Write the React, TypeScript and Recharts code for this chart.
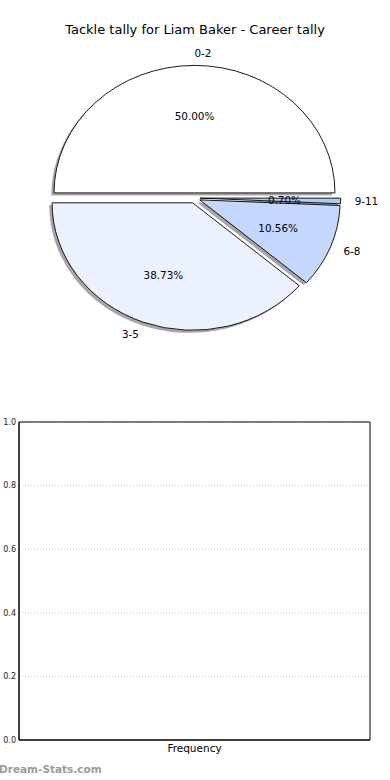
import React from 'react';
import { PieChart, Pie, BarChart, Bar, XAxis, YAxis, CartesianGrid, ReferenceArea } from 'recharts';

const chartTitle = 'Tackle tally for Liam Baker - Career tally';
const tallyRanges = ['0-2', '3-5', '6-8', '9-11'];
const tallyCounts = [71, 55, 15, 1];
const sliceColors = ['#ffffff', '#ebf1fe', '#c4d8ff', '#afcbf5'];
const frequencyCategories = [''];
const frequencyValues = [0];
const frequencyTicks = [0, 0.2, 0.4, 0.6, 0.8, 1.0];
const xAxisTitle = 'Frequency';
const watermark = 'Dream-Stats.com';

const pieData = tallyRanges.map((range, i) => ({ range, count: tallyCounts[i], color: sliceColors[i] }));
const freqData = frequencyCategories.map((category, i) => ({ category, value: frequencyValues[i] }));

const FONT = '"DejaVu Sans", sans-serif';
const RATIO = 127.5 / 140.5; // vertical / horizontal radius
const EXPLODE = 0.04;
const SHADOW = 0.02;
const RAD = Math.PI / 180;

function wedgePath(cx: number, cy: number, rx: number, ry: number, start: number, end: number) {
  const x1 = cx + rx * Math.cos(start * RAD);
  const y1 = cy - ry * Math.sin(start * RAD);
  const x2 = cx + rx * Math.cos(end * RAD);
  const y2 = cy - ry * Math.sin(end * RAD);
  const large = end - start > 180 ? 1 : 0;
  return `M${cx},${cy} L${x1},${y1} A${rx},${ry} 0 ${large} 0 ${x2},${y2} Z`;
}

function explodedCenter(p: any) {
  const rx = p.outerRadius;
  const ry = rx * RATIO;
  const mid = (p.startAngle + p.endAngle) / 2;
  return {
    rx,
    ry,
    mid,
    x: p.cx + EXPLODE * rx * Math.cos(mid * RAD),
    y: p.cy - EXPLODE * ry * Math.sin(mid * RAD),
  };
}

const WedgeShape = (p: any) => {
  const c = explodedCenter(p);
  return (
    <path
      d={wedgePath(c.x, c.y, c.rx, c.ry, p.startAngle, p.endAngle)}
      fill={p.payload?.color ?? p.fill}
      stroke="#000"
      strokeWidth={0.9}
      strokeLinejoin="round"
    />
  );
};

const ShadowShape = (p: any) => {
  const c = explodedCenter(p);
  return (
    <path
      d={wedgePath(c.x - SHADOW * c.rx, c.y + SHADOW * c.ry, c.rx, c.ry, p.startAngle, p.endAngle)}
      fill="#4d4d4d"
      fillOpacity={0.5}
      stroke="none"
    />
  );
};

const renderLabels = (p: any) => {
  const c = explodedCenter(p);
  const cosm = Math.cos(c.mid * RAD);
  const sinm = Math.sin(c.mid * RAD);
  const lx = c.x + 1.1 * c.rx * cosm;
  const ly = c.y - 1.1 * c.ry * sinm;
  const px = c.x + 0.6 * c.rx * cosm;
  const py = c.y - 0.6 * c.ry * sinm;
  const anchor = lx - p.cx > 0 || Math.abs(lx - p.cx) < 1e-6 ? 'start' : 'end';
  return (
    <g>
      <text x={lx} y={ly} textAnchor={anchor} dominantBaseline="central" fontSize={10.4} fontFamily={FONT} fill="#000">
        {p.payload?.range}
      </text>
      <text x={px} y={py} textAnchor="middle" dominantBaseline="central" fontSize={10.4} fontFamily={FONT} fill="#000">
        {(p.percent * 100).toFixed(2) + '%'}
      </text>
    </g>
  );
};

export default function App() {
  return (
    <div style={{ position: 'absolute', left: 0, top: 0, width: 390, height: 780, background: '#fff', overflow: 'hidden' }}>
      <div
        style={{
          position: 'absolute',
          left: 0,
          top: 21,
          width: 390,
          textAlign: 'center',
          fontFamily: FONT,
          fontSize: 13,
          lineHeight: '18px',
          color: '#000',
        }}
      >
        {chartTitle}
      </div>
      <div style={{ position: 'absolute', left: 0, top: 0 }}>
        <PieChart width={390} height={390} margin={{ top: 0, right: 0, bottom: 0, left: 0 }}>
          <Pie
            data={pieData}
            dataKey="count"
            nameKey="range"
            cx={194.5}
            cy={198}
            outerRadius={140.5}
            startAngle={0}
            endAngle={360}
            isAnimationActive={false}
            shape={ShadowShape}
            label={false}
            labelLine={false}
          />
          <Pie
            data={pieData}
            dataKey="count"
            nameKey="range"
            cx={194.5}
            cy={198}
            outerRadius={140.5}
            startAngle={0}
            endAngle={360}
            isAnimationActive={false}
            shape={WedgeShape}
            label={renderLabels}
            labelLine={false}
          />
        </PieChart>
      </div>
      <div style={{ position: 'absolute', left: 0, top: 380 }}>
        <BarChart width={390} height={400} data={freqData} margin={{ top: 42, right: 20, bottom: 10, left: 0 }}>
          <CartesianGrid horizontal vertical={false} stroke="#c8c8c8" strokeDasharray="1 2" />
          <XAxis
            dataKey="category"
            tick={false}
            tickLine={false}
            axisLine={{ stroke: '#000' }}
            height={30}
            label={{ value: xAxisTitle, position: 'insideTop', offset: 5, fontSize: 10.5, fontFamily: FONT, fill: '#000' }}
          />
          <YAxis
            type="number"
            domain={[0, 1]}
            allowDataOverflow
            ticks={frequencyTicks}
            interval={0}
            tickFormatter={(v: number) => v.toFixed(1)}
            width={19}
            axisLine={{ stroke: '#000' }}
            tickLine={false}
            tickSize={3}
            tickMargin={0}
            tick={{ fontSize: 8, fontFamily: FONT, fill: '#222' }}
          />
          <Bar dataKey="value" fill="#c4d8ff" isAnimationActive={false} />
          <ReferenceArea y1={0} y2={1} fill="none" fillOpacity={0} stroke="#000" strokeWidth={1} ifOverflow="visible" />
        </BarChart>
      </div>
      <div
        style={{
          position: 'absolute',
          left: -1,
          top: 762,
          fontFamily: FONT,
          fontWeight: 'bold',
          fontSize: 10.5,
          lineHeight: '14px',
          color: '#9a9a9a',
          whiteSpace: 'nowrap',
        }}
      >
        {watermark}
      </div>
    </div>
  );
}
